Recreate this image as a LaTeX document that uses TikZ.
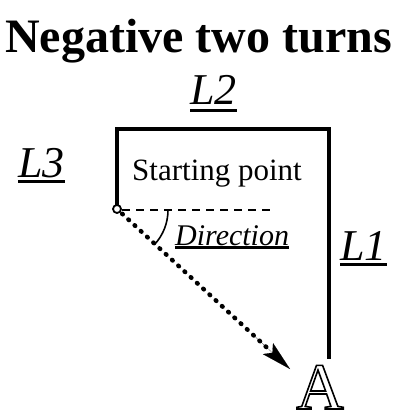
\documentclass[tikz,border=0pt]{standalone}
\usepackage{fontspec}
\setmainfont{Liberation Serif}
\usetikzlibrary{arrows.meta,calc}
\newcommand\ulbox[2]{\setbox0\hbox{#2}\rlap{\box0}\setbox0\hbox{#2}\raisebox{-#1}{\rule{\wd0}{2.8pt}}}
\tikzset{
  lbl/.style={inner sep=0pt, anchor=base west},
  wall/.style={line width=3.6pt},
}
\begin{document}
\begin{tikzpicture}[x=1pt,y=-1pt]
\useasboundingbox (0,0) rectangle (401,417);
\node[lbl, font=\bfseries\fontsize{48}{56}\selectfont] (title) at (5,53) {Negative two turns};
\node[lbl, font=\fontsize{44}{50}\selectfont] (l2) at (190,105) {\ulbox{7pt}{\textit{L2}}};
\node[lbl, font=\fontsize{44}{50}\selectfont] (l3) at (18,177) {\ulbox{6pt}{\textit{L3}}};
\node[lbl, font=\fontsize{44}{50}\selectfont] (l1) at (340,260) {\ulbox{6pt}{\textit{L1}}};
\node[lbl, font=\fontsize{31}{36}\selectfont] (sp) at (132,180) {Starting point};
\node[lbl, font=\fontsize{30}{36}\selectfont] (dir) at (175,245) {\ulbox{4pt}{\textit{Direction}}};
\node[lbl, font=\fontsize{66}{70}\selectfont] (A) at (296,409) {\raisebox{0pt}[\height][0pt]{\special{pdf:code 1 Tr 1.6 w}A\special{pdf:code 0 Tr}}};
\coordinate (s) at (117,209);
\coordinate (tl) at (117,129);
\coordinate (tr) at (329,129);
\coordinate (br) at (329,357);
\coordinate (de) at (274,210);
\coordinate (tip) at (290,369);
\coordinate (ab) at ($(s)!0.8!(tip)$);
\draw[wall, line cap=rect] (s) ++(0,-4) -- (tl) -- (tr) -- (br);
\draw[line width=1.3pt, dash pattern=on 8pt off 6pt] (122,210) -- (de);
\draw[line width=1.6pt] (168,210) arc[start angle=0, end angle=43, radius=51];
\draw[line width=4.5pt, line cap=round, dash pattern=on 0.8pt off 7.7pt, shorten <=7pt, shorten >=26pt] (s) -- (tip);
\draw[-{Stealth[length=30pt,width=15pt,inset=6pt]}, line width=0.1pt] (ab) -- (tip);
\draw[line width=1.8pt, fill=white] (s) circle[radius=4];
\end{tikzpicture}
\end{document}
